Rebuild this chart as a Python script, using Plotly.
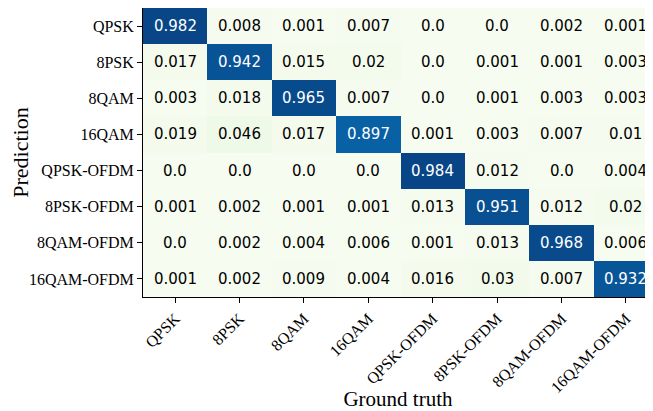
import plotly.graph_objects as go

labels = ["QPSK", "8PSK", "8QAM", "16QAM", "QPSK-OFDM", "8PSK-OFDM", "8QAM-OFDM", "16QAM-OFDM"]

row_qpsk = [0.982, 0.008, 0.001, 0.007, 0.0, 0.0, 0.002, 0.001]
row_8psk = [0.017, 0.942, 0.015, 0.02, 0.0, 0.001, 0.001, 0.003]
row_8qam = [0.003, 0.018, 0.965, 0.007, 0.0, 0.001, 0.003, 0.003]
row_16qam = [0.019, 0.046, 0.017, 0.897, 0.001, 0.003, 0.007, 0.01]
row_qpsk_ofdm = [0.0, 0.0, 0.0, 0.0, 0.984, 0.012, 0.0, 0.004]
row_8psk_ofdm = [0.001, 0.002, 0.001, 0.001, 0.013, 0.951, 0.012, 0.02]
row_8qam_ofdm = [0.0, 0.002, 0.004, 0.006, 0.001, 0.013, 0.968, 0.006]
row_16qam_ofdm = [0.001, 0.002, 0.009, 0.004, 0.016, 0.03, 0.007, 0.932]

z = [row_qpsk, row_8psk, row_8qam, row_16qam,
     row_qpsk_ofdm, row_8psk_ofdm, row_8qam_ofdm, row_16qam_ofdm]

fig = go.Figure(go.Heatmap(
    z=z, x=labels, y=labels,
    colorscale="GnBu", zmin=0, zmax=1,
    showscale=False, xgap=0, ygap=0,
))

annotations = []
for i, row in enumerate(z):
    for j, v in enumerate(row):
        annotations.append(dict(
            x=labels[j], y=labels[i], text=str(v), showarrow=False,
            font=dict(family="DejaVu Sans", size=15,
                      color="white" if v > 0.5 else "black"),
        ))

# page body has an 8px margin, so the canvas is sized/offset to compensate
fig.update_layout(
    width=645, height=403,
    margin=dict(l=135, r=0, t=0, b=114),
    paper_bgcolor="white", plot_bgcolor="white",
    annotations=annotations,
    font=dict(family="Liberation Serif", color="black"),
)
fig.update_xaxes(
    range=[-0.5, 7.42], tickangle=-45, automargin=False,
    tickfont=dict(family="Liberation Serif", size=16),
    title=dict(text="Ground truth", font=dict(family="Liberation Serif", size=21), standoff=8),
    ticks="outside", ticklen=5, tickcolor="black",
    showline=True, linecolor="black", linewidth=1, mirror=True,
    showgrid=False, zeroline=False,
)
fig.update_yaxes(
    autorange="reversed", automargin=False,
    tickfont=dict(family="Liberation Serif", size=16),
    title=dict(text="Prediction", font=dict(family="Liberation Serif", size=22), standoff=4),
    ticks="outside", ticklen=5, tickcolor="black",
    showline=True, linecolor="black", linewidth=1, mirror=True,
    showgrid=False, zeroline=False,
)

fig.write_html("out.html")
